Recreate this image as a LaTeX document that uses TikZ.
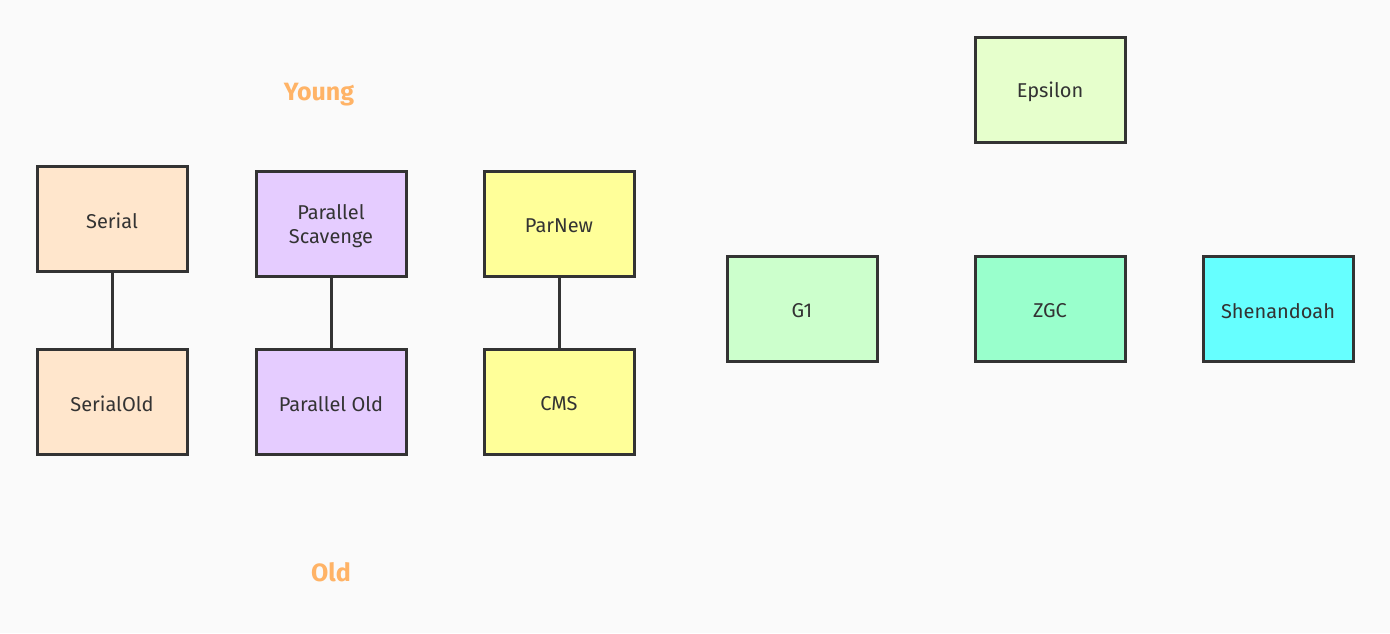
\documentclass[tikz,border=0pt]{standalone}
\usepackage{fontspec}
\setmainfont{Fira Sans}
\definecolor{bg}{HTML}{FAFAFA}
\definecolor{ink}{HTML}{333333}
\definecolor{cSerial}{HTML}{FFE6CC}
\definecolor{cPar}{HTML}{E5CCFF}
\definecolor{cNew}{HTML}{FFFF99}
\definecolor{cEps}{HTML}{E6FFCC}
\definecolor{cGone}{HTML}{CCFFCC}
\definecolor{cZgc}{HTML}{99FFCC}
\definecolor{cShen}{HTML}{66FFFF}
\definecolor{lbl}{HTML}{FFB366}
\tikzset{
  gcbox/.style={draw=ink, line width=3pt, minimum width=150pt, minimum height=105pt,
    inner sep=0pt},
  gctext/.style={align=center, text=ink, inner sep=0pt, yshift=-2.5pt,
    font=\fontsize{20pt}{24pt}\selectfont},
  genlabel/.style={text=lbl, font=\bfseries\fontsize{25pt}{29pt}\selectfont},
  link/.style={draw=ink, line width=3pt}
}
\begin{document}
\begin{tikzpicture}[x=1pt,y=-1pt]
\fill[bg] (0,0) rectangle (1390,633);
\useasboundingbox (0,0) rectangle (1390,633);
\node[genlabel] (young) at (319,94.5) {Young};
\node[genlabel] (old) at (331,572) {Old};
\node[gcbox, fill=cSerial, label={[gctext]center:Serial}] (serial) at (112,218.5) {};
\node[gcbox, fill=cSerial, label={[gctext]center:SerialOld}] (serialold) at (112,401.5) {};
\node[gcbox, fill=cPar, label={[gctext]center:{Parallel\\Scavenge}}] (ps) at (331,223.5) {};
\node[gcbox, fill=cPar, label={[gctext]center:Parallel Old}] (po) at (331,401.5) {};
\node[gcbox, fill=cNew, label={[gctext]center:ParNew}] (parnew) at (559,223.5) {};
\node[gcbox, fill=cNew, label={[gctext]center:CMS}] (cms) at (559,401.5) {};
\node[gcbox, fill=cEps, label={[gctext]center:Epsilon}] (eps) at (1050,89.5) {};
\node[gcbox, fill=cGone, label={[gctext]center:G1}] (g1) at (802,308.5) {};
\node[gcbox, fill=cZgc, label={[gctext]center:ZGC}] (zgc) at (1050,308.5) {};
\node[gcbox, fill=cShen, label={[gctext]center:Shenandoah}] (shen) at (1278,308.5) {};
\draw[link] (serial) -- (serialold);
\draw[link] (ps) -- (po);
\draw[link] (parnew) -- (cms);
\end{tikzpicture}
\end{document}
